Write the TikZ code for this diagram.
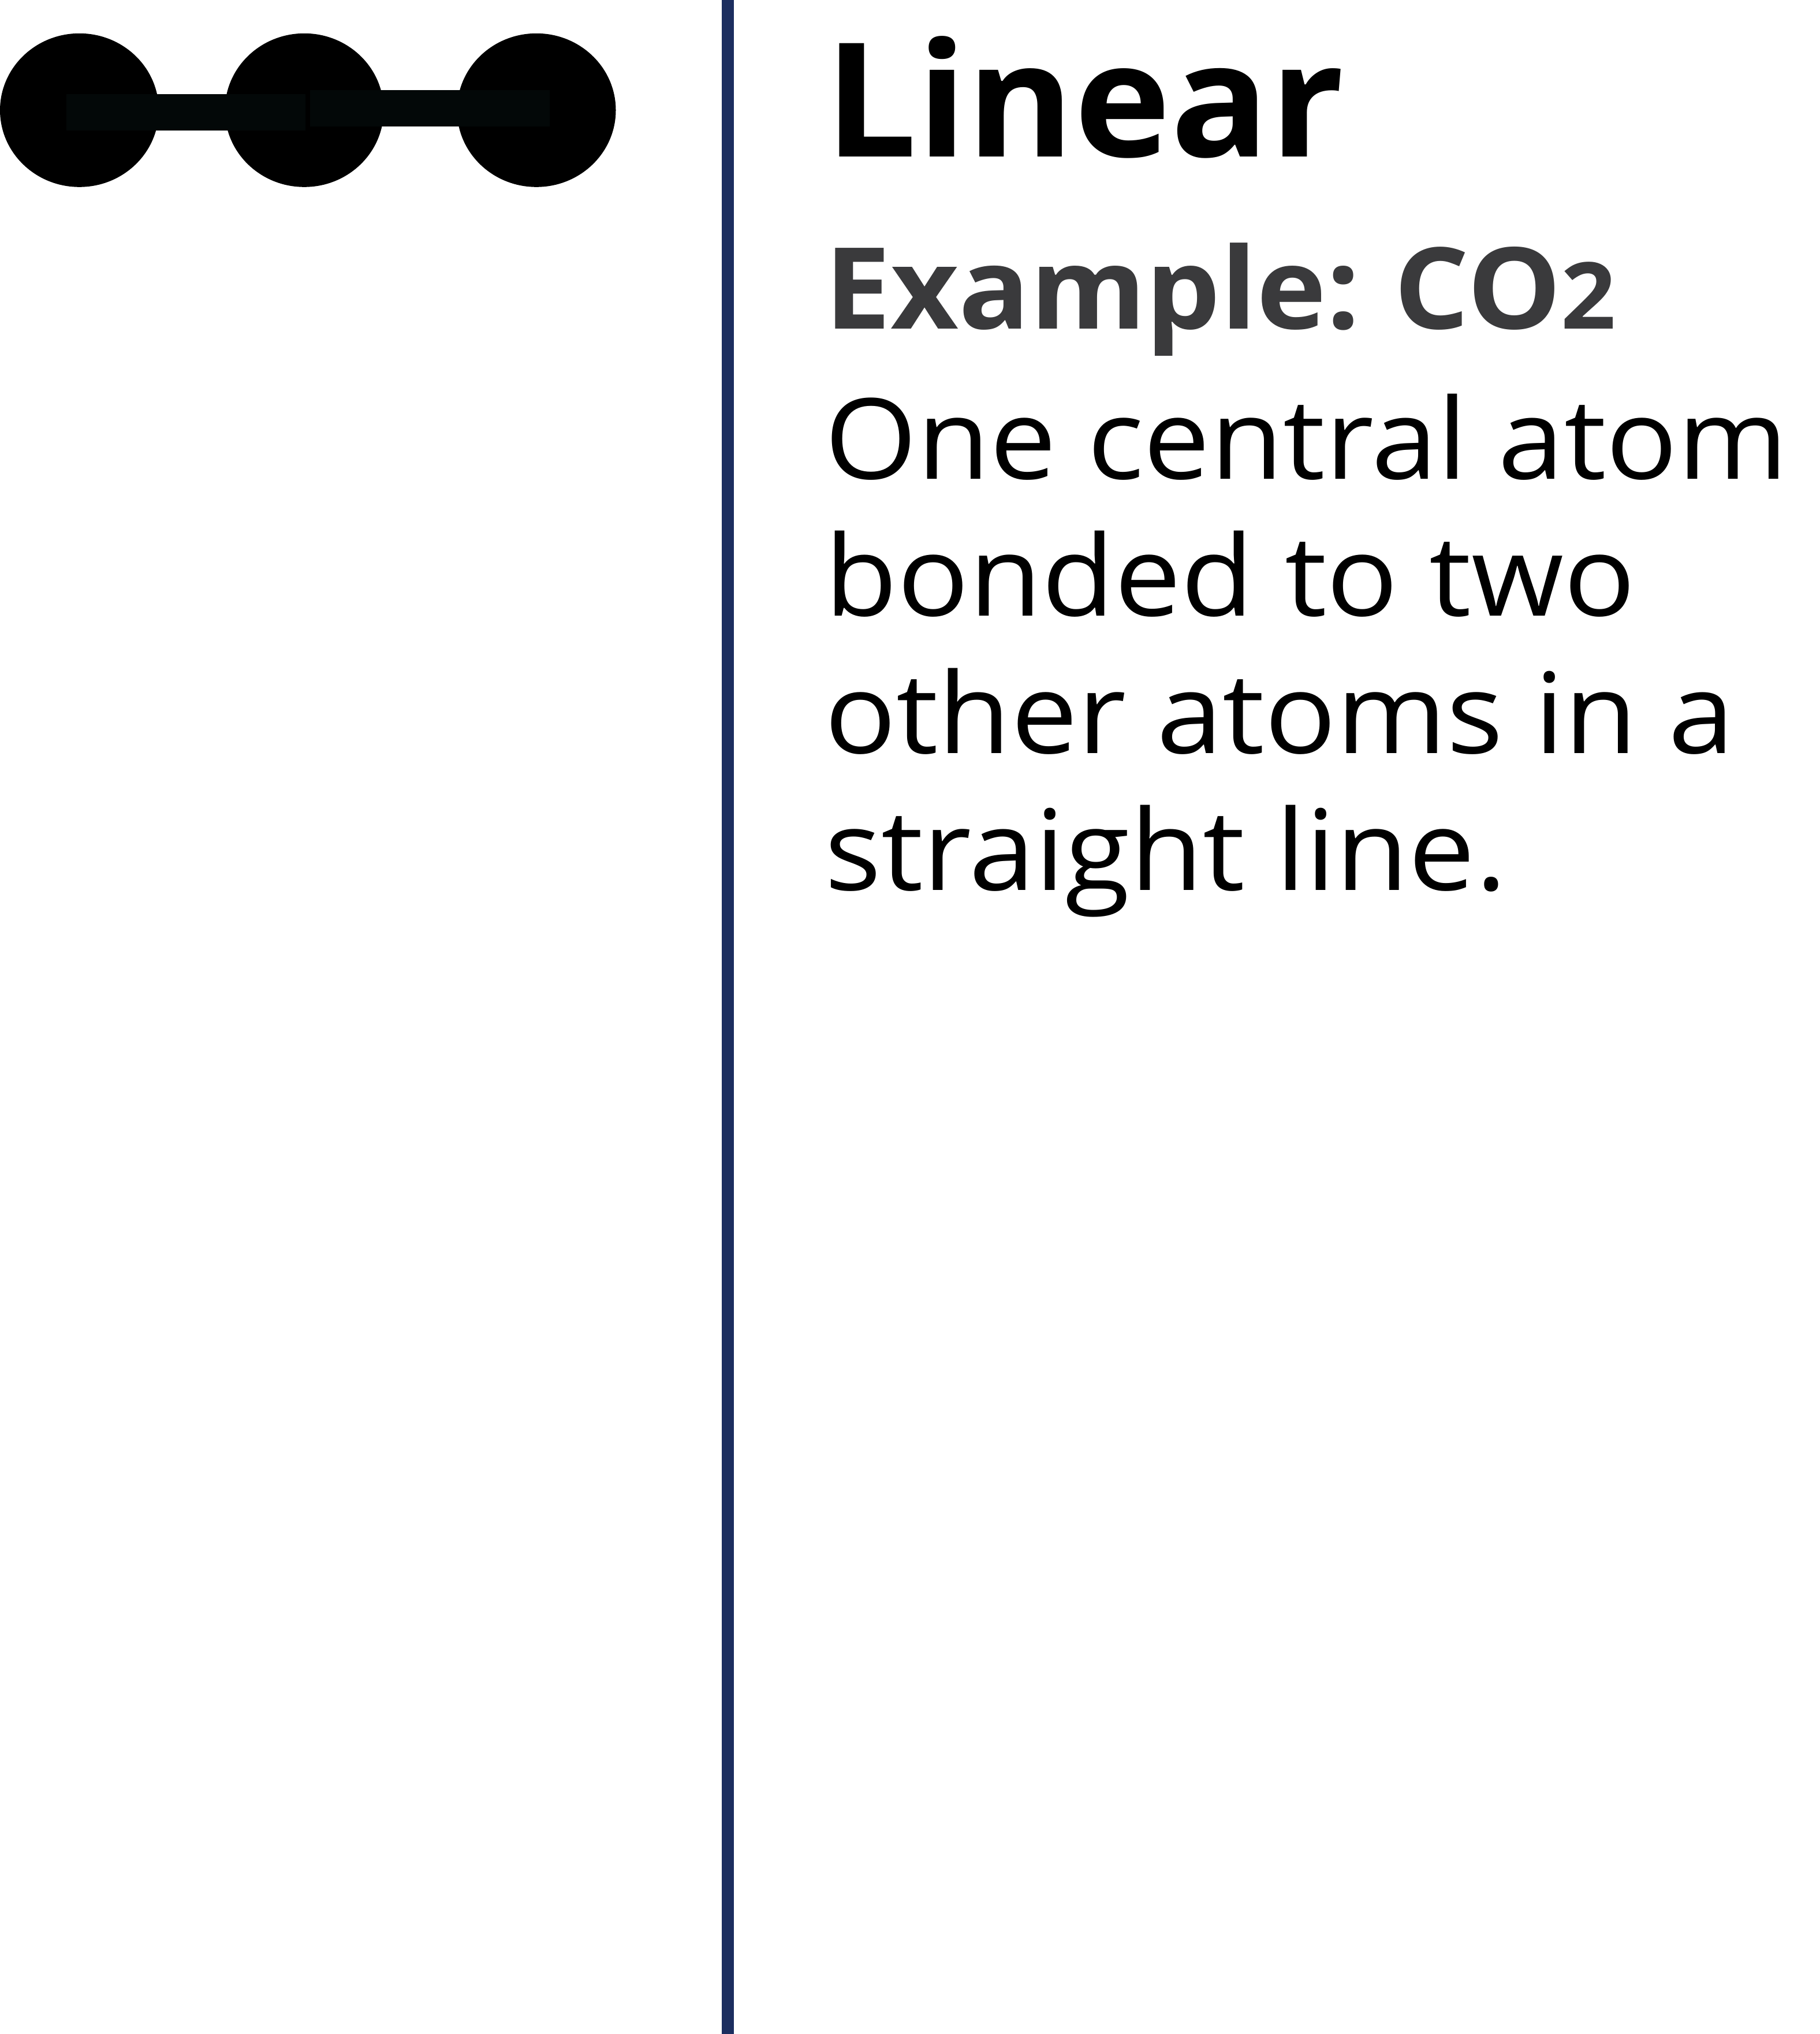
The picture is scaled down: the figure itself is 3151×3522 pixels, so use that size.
\documentclass[tikz,border=0pt]{standalone}
\usepackage{fontspec}
\usetikzlibrary{shapes.geometric}
\setmainfont{Open Sans}
\definecolor{rulecol}{HTML}{1C2E5F}
\definecolor{bondcol}{HTML}{030808}
\definecolor{subcol}{HTML}{3A3A3C}
\newcommand{\wideby}[2]{\scalebox{#1}[1]{#2}}
\tikzset{
  atom/.style={ellipse,fill=black,draw=none,inner sep=0pt,minimum width=275pt,minimum height=266pt},
  bond/.style={draw=bondcol,line width=63pt},
  txt/.style={anchor=base west,inner sep=0pt,outer sep=0pt},
  titletxt/.style={txt,font=\fontsize{275}{275}\selectfont\bfseries,text=black},
  subtxt/.style={txt,font=\fontsize{196}{196}\selectfont\bfseries,text=subcol},
  bodytxt/.style={txt,font=\fontsize{194}{194}\selectfont,text=black},
}
\begin{document}
\begin{tikzpicture}[x=1pt,y=1pt]
\useasboundingbox (0,0) rectangle (3151,-3522);
\node[atom] (a1) at (137.5,-190.8) {};
\node[atom] (a2) at (527,-190.8) {};
\node[atom] (a3) at (929,-190.8) {};
\coordinate (b1s) at (115,-194.4);
\coordinate (b1e) at (529,-194.4);
\coordinate (b2s) at (536.7,-187.5);
\coordinate (b2e) at (952,-187.5);
\draw[bond] (b1s) -- (b1e);
\draw[bond] (b2s) -- (b2e);
\coordinate (r1) at (1260.5,0);
\coordinate (r2) at (1260.5,-3522);
\draw[rulecol,line width=21pt] (r1) -- (r2);
\node[titletxt] (title) at (1428,-271) {\wideby{1.03}{Linear}};
\node[subtxt] (sub) at (1428,-569) {\wideby{1.043}{Example:\hspace{-11pt} CO{\fontsize{160}{160}\selectfont 2}}};
\node[bodytxt] (l1) at (1428,-829) {\wideby{1.06}{One central atom}};
\node[bodytxt] (l2) at (1428,-1066) {\wideby{1.06}{bonded to two}};
\node[bodytxt] (l3) at (1428,-1304) {\wideby{1.06}{other atoms in a}};
\node[bodytxt] (l4) at (1428,-1541) {\wideby{1.06}{straight line.}};
\end{tikzpicture}
\end{document}
